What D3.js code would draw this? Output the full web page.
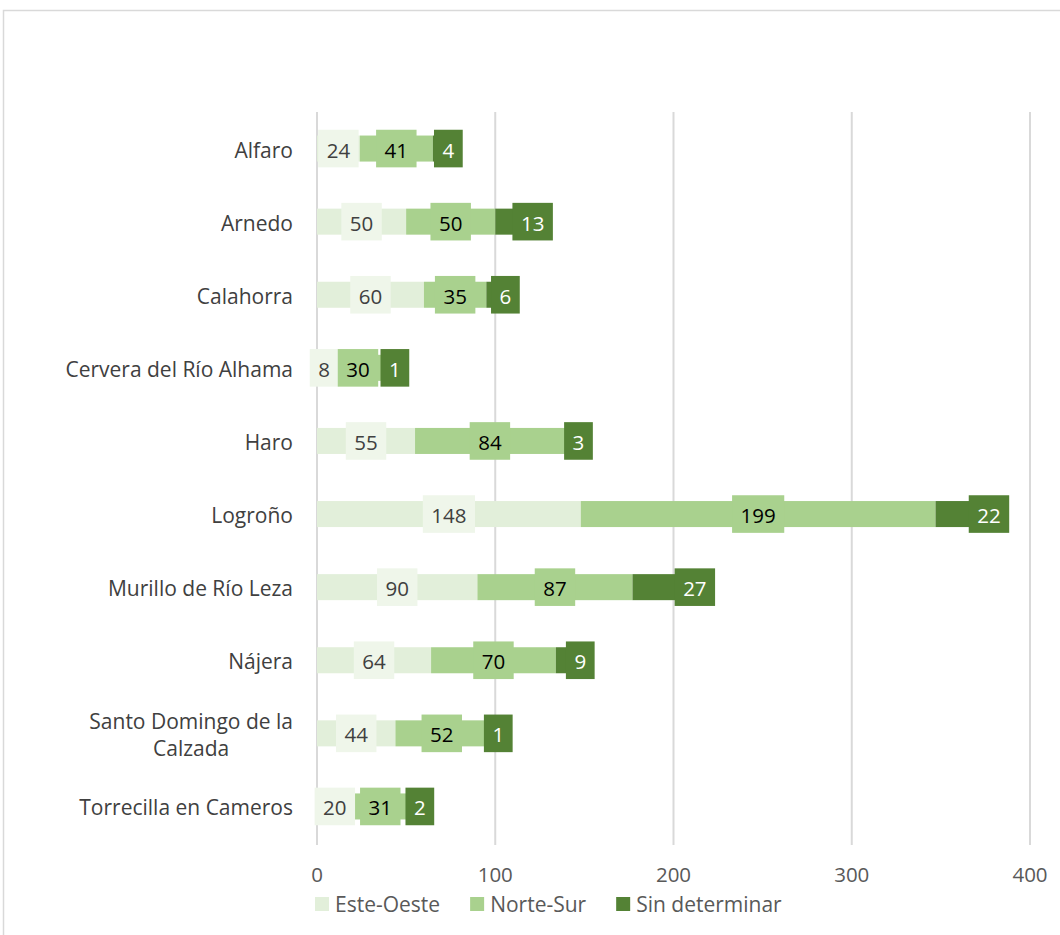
<!DOCTYPE html>
<html>
<head>
<meta charset="utf-8">
<script src="https://cdn.jsdelivr.net/npm/d3@7"></script>
<style>
  html, body { margin: 0; padding: 0; background: #ffffff; }
  svg { display: block; }
  text { font-family: "Open Sans", "Noto Sans", sans-serif; }
</style>
</head>
<body>
<svg id="chart" width="1060" height="935"></svg>
<script>
const categories = ["Alfaro", "Arnedo", "Calahorra", "Cervera del Río Alhama", "Haro", "Logroño",
  "Murillo de Río Leza", "Nájera", "Santo Domingo de la Calzada", "Torrecilla en Cameros"];
const esteOeste = [24, 50, 60, 8, 55, 148, 90, 64, 44, 20];
const norteSur = [41, 50, 35, 30, 84, 199, 87, 70, 52, 31];
const sinDeterminar = [4, 13, 6, 1, 3, 22, 27, 9, 1, 2];
const seriesNames = ["Este-Oeste", "Norte-Sur", "Sin determinar"];
const xTicks = [0, 100, 200, 300, 400];

const barColors = ["#e2efda", "#a9d18e", "#548235"];
const boxColors = ["#eff6ea", "#a9d18e", "#548235"];
const labelColors = ["#404040", "#000000", "#ffffff"];

const svg = d3.select("#chart");
const fontSize = 21;
const tickFont = 20.5;

// outer chart border
svg.append("rect").attr("x", 3.5).attr("y", 10.5).attr("width", 1100).attr("height", 1000)
  .attr("fill", "#ffffff").attr("stroke", "#d9d9d9").attr("stroke-width", 1.5);

const x = d3.scaleLinear().domain([0, 400]).range([317, 1030]);
const y = d3.scaleBand().domain(categories).range([112, 843]).paddingInner(0.644).paddingOuter(0.322);

// gridlines
svg.append("g").selectAll("line").data(xTicks).join("line")
  .attr("x1", d => x(d)).attr("x2", d => x(d))
  .attr("y1", 112).attr("y2", 845)
  .attr("stroke", "#d9d9d9").attr("stroke-width", 2);

// tick labels
svg.append("g").selectAll("text").data(xTicks).join("text")
  .attr("x", d => x(d)).attr("y", 882)
  .attr("text-anchor", "middle").attr("font-size", tickFont).attr("fill", "#595959")
  .text(d => d);

// stacked data
const rows = categories.map((c, i) => ({ cat: c, s0: esteOeste[i], s1: norteSur[i], s2: sinDeterminar[i] }));
const stack = d3.stack().keys(["s0", "s1", "s2"]);
const stacked = stack(rows);

// bars
stacked.forEach((layer, li) => {
  svg.append("g").selectAll("rect").data(layer).join("rect")
    .attr("x", d => x(d[0]))
    .attr("y", d => y(d.data.cat))
    .attr("width", d => x(d[1]) - x(d[0]))
    .attr("height", y.bandwidth())
    .attr("fill", barColors[li]);
});

// data labels
const boxH = 37.6;
const prevRight = {};
stacked.forEach((layer, li) => {
  const g = svg.append("g");
  layer.forEach(d => {
    const cy = y(d.data.cat) + y.bandwidth() / 2;
    const t = g.append("text")
      .attr("font-size", tickFont).attr("fill", labelColors[li])
      .attr("text-anchor", "middle").attr("dominant-baseline", "central")
      .text(d[1] - d[0]);
    const tw = t.node().getComputedTextLength();
    const w = tw + 17;
    let left;
    if (li < 2) {
      left = (x(d[0]) + x(d[1])) / 2 - w / 2;
    } else {
      left = Math.max(x(d[1]) - 6, prevRight[d.data.cat] || 0);
    }
    prevRight[d.data.cat] = left + w;
    g.insert("rect", () => t.node())
      .attr("x", left).attr("y", cy - boxH / 2)
      .attr("width", w).attr("height", boxH)
      .attr("fill", boxColors[li]);
    t.attr("x", left + w / 2).attr("y", cy + 1);
  });
});

// category labels with wrapping
const catG = svg.append("g");
const rightEdge = 293;
const maxW = 236;
function measure(s) {
  const p = catG.append("text").attr("font-size", fontSize).text(s);
  const tw = p.node().getComputedTextLength();
  p.remove();
  return tw;
}
categories.forEach(c => {
  const cy = y(c) + y.bandwidth() / 2;
  let lines = [c];
  if (measure(c) > maxW) {
    const words = c.split(" ");
    lines = [];
    let cur = "";
    words.forEach(wd => {
      const test = cur ? cur + " " + wd : wd;
      if (measure(test) > maxW && cur) { lines.push(cur); cur = wd; } else { cur = test; }
    });
    lines.push(cur);
  }
  const blockW = d3.max(lines, measure);
  const lh = 27;
  const startY = cy - (lines.length - 1) * lh / 2;
  lines.forEach((l, i) => {
    catG.append("text")
      .attr("x", rightEdge - blockW / 2).attr("y", startY + i * lh + 1)
      .attr("text-anchor", "middle").attr("dominant-baseline", "central")
      .attr("font-size", fontSize).attr("fill", "#404040")
      .text(l);
  });
});

// legend
const legG = svg.append("g");
let lx = 315;
seriesNames.forEach((n, i) => {
  legG.append("rect").attr("x", lx).attr("y", 897).attr("width", 14).attr("height", 14)
    .attr("fill", barColors[i]);
  const t = legG.append("text").attr("x", lx + 20).attr("y", 904)
    .attr("dominant-baseline", "central")
    .attr("font-size", fontSize).attr("fill", "#595959").text(n);
  const tw = t.node().getComputedTextLength();
  lx = lx + 20 + tw + 30;
});
</script>
</body>
</html>
